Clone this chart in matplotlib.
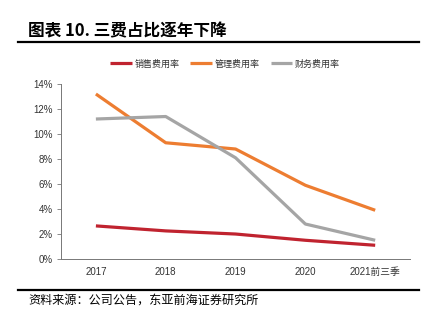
import matplotlib

matplotlib.use("Agg")
import matplotlib.pyplot as plt
from matplotlib.lines import Line2D
from matplotlib.ticker import FuncFormatter

plt.rcParams["font.family"] = ["Liberation Sans", "Noto Sans CJK SC", "DejaVu Sans"]

categories = ["2017", "2018", "2019", "2020", "2021前三季"]
selling_rate = [2.65, 2.25, 2.0, 1.5, 1.1]
admin_rate = [13.2, 9.3, 8.8, 5.9, 3.9]
finance_rate = [11.2, 11.4, 8.1, 2.8, 1.5]
series_names = ["销售费用率", "管理费用率", "财务费用率"]
y_ticks = [0, 2, 4, 6, 8, 10, 12, 14]

colors = ["#C0232F", "#ED7D31", "#A5A5A5"]
cjk = ["Noto Sans CJK SC", "DejaVu Sans"]

fig = plt.figure(figsize=(4.31, 3.25), dpi=100)
fig.patch.set_facecolor("white")

fig.text(0.065, 0.905, "图表 10. 三费占比逐年下降", fontsize=12, fontweight="bold",
         family=cjk, va="center", ha="left")
fig.add_artist(Line2D([0.042, 0.972], [0.871, 0.871], color="black", linewidth=1.6))
fig.add_artist(Line2D([0.042, 0.972], [0.108, 0.108], color="black", linewidth=1.6))
fig.text(0.065, 0.077, "资料来源：公司公告，东亚前海证券研究所", fontsize=8.7,
         family=cjk, va="center", ha="left")

ax = fig.add_axes([0.1415, 0.203, 0.81, 0.5385])
x = range(len(categories))
for values, color, name in zip([selling_rate, admin_rate, finance_rate], colors, series_names):
    ax.plot(x, values, color=color, linewidth=2.3, label=name, solid_capstyle="butt")

ax.set_xlim(-0.5, len(categories) - 0.5)
ax.set_ylim(0, 14)
ax.set_yticks(y_ticks)
ax.yaxis.set_major_formatter(FuncFormatter(lambda v, _: f"{v:.0f}%"))
ax.set_xticks(list(x))
ax.set_xticklabels(categories)
ax.tick_params(axis="y", length=3, width=0.6, color="#777777", labelsize=7, pad=3, labelcolor="#333333")
ax.tick_params(axis="x", length=0, labelsize=7, pad=6, labelcolor="#333333")
for side in ["top", "right"]:
    ax.spines[side].set_visible(False)
for side in ["left", "bottom"]:
    ax.spines[side].set_color("#777777")
    ax.spines[side].set_linewidth(0.7)

legend = ax.legend(loc="center", bbox_to_anchor=(0.47, 1.115), ncol=3, frameon=False,
                   handlelength=2.4, handletextpad=0.3, columnspacing=1.2,
                   prop={"family": cjk, "size": 6.5})
for text in legend.get_texts():
    text.set_color("#333333")

fig.savefig("out.png", dpi=100)
